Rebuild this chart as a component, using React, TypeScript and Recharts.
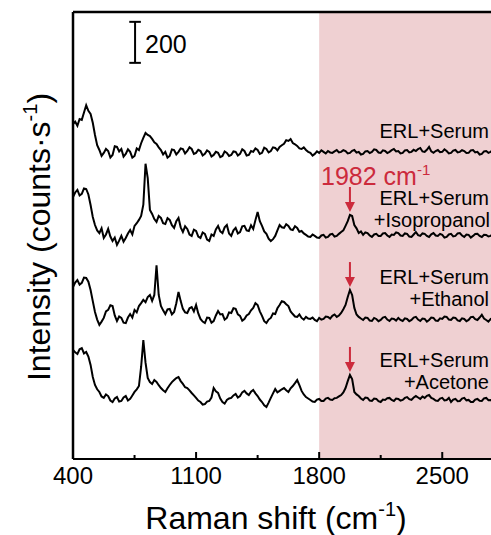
import React from "react";
import {
  Line,
  LineChart,
  ReferenceArea,
  ReferenceDot,
  ReferenceLine,
  XAxis,
  YAxis,
} from "recharts";

// Raman shift (cm-1), read every 12.5 cm-1
const shifts = [
  400, 412.5, 425, 437.5, 450, 462.5, 475, 487.5,
  500, 512.5, 525, 537.5, 550, 562.5, 575, 587.5,
  600, 612.5, 625, 637.5, 650, 662.5, 675, 687.5,
  700, 712.5, 725, 737.5, 750, 762.5, 775, 787.5,
  800, 812.5, 825, 837.5, 850, 862.5, 875, 887.5,
  900, 912.5, 925, 937.5, 950, 962.5, 975, 987.5,
  1000, 1012.5, 1025, 1037.5, 1050, 1062.5, 1075, 1087.5,
  1100, 1112.5, 1125, 1137.5, 1150, 1162.5, 1175, 1187.5,
  1200, 1212.5, 1225, 1237.5, 1250, 1262.5, 1275, 1287.5,
  1300, 1312.5, 1325, 1337.5, 1350, 1362.5, 1375, 1387.5,
  1400, 1412.5, 1425, 1437.5, 1450, 1462.5, 1475, 1487.5,
  1500, 1512.5, 1525, 1537.5, 1550, 1562.5, 1575, 1587.5,
  1600, 1612.5, 1625, 1637.5, 1650, 1662.5, 1675, 1687.5,
  1700, 1712.5, 1725, 1737.5, 1750, 1762.5, 1775, 1787.5,
  1800, 1812.5, 1825, 1837.5, 1850, 1862.5, 1875, 1887.5,
  1900, 1912.5, 1925, 1937.5, 1950, 1962.5, 1975, 1987.5,
  2000, 2012.5, 2025, 2037.5, 2050, 2062.5, 2075, 2087.5,
  2100, 2112.5, 2125, 2137.5, 2150, 2162.5, 2175, 2187.5,
  2200, 2212.5, 2225, 2237.5, 2250, 2262.5, 2275, 2287.5,
  2300, 2312.5, 2325, 2337.5, 2350, 2362.5, 2375, 2387.5,
  2400, 2412.5, 2425, 2437.5, 2450, 2462.5, 2475, 2487.5,
  2500, 2512.5, 2525, 2537.5, 2550, 2562.5, 2575, 2587.5,
  2600, 2612.5, 2625, 2637.5, 2650, 2662.5, 2675, 2687.5,
  2700, 2712.5, 2725, 2737.5, 2750, 2762.5, 2775, 2787.5,
  2800,
];

// intensities (counts/s) as plotted, stacking offsets included
const serum = [
  1634, 1645, 1625, 1658, 1654, 1690, 1725, 1698,
  1683, 1640, 1580, 1530, 1507, 1478, 1493, 1512,
  1502, 1470, 1483, 1525, 1522, 1500, 1512, 1475,
  1488, 1510, 1498, 1470, 1478, 1515, 1507, 1540,
  1566, 1590, 1580, 1575, 1561, 1545, 1537, 1520,
  1507, 1485, 1498, 1470, 1478, 1510, 1507, 1485,
  1498, 1515, 1512, 1490, 1502, 1520, 1512, 1488,
  1493, 1508, 1502, 1480, 1488, 1505, 1498, 1475,
  1483, 1498, 1493, 1472, 1478, 1500, 1493, 1478,
  1483, 1500, 1498, 1480, 1488, 1510, 1502, 1480,
  1483, 1502, 1498, 1515, 1507, 1488, 1493, 1518,
  1512, 1495, 1502, 1520, 1517, 1505, 1522, 1530,
  1537, 1555, 1551, 1560, 1541, 1535, 1527, 1515,
  1512, 1520, 1507, 1498, 1493, 1480, 1488, 1500,
  1493, 1505, 1498, 1490, 1502, 1495, 1493, 1500,
  1507, 1495, 1498, 1506, 1502, 1490, 1493, 1503,
  1507, 1494, 1498, 1485, 1488, 1500, 1502, 1492,
  1498, 1510, 1507, 1495, 1493, 1505, 1502, 1492,
  1498, 1506, 1512, 1500, 1502, 1490, 1493, 1505,
  1507, 1495, 1498, 1508, 1502, 1512, 1517, 1500,
  1498, 1508, 1522, 1500, 1493, 1502, 1507, 1496,
  1498, 1510, 1502, 1490, 1493, 1504, 1507, 1495,
  1498, 1506, 1502, 1492, 1493, 1505, 1507, 1495,
  1498, 1485, 1488, 1500, 1502, 1493, 1498, 1507,
  1502,
];

const isopropanol = [
  1278, 1300, 1312, 1285, 1293, 1320, 1317, 1290,
  1239, 1180, 1141, 1115, 1102, 1125, 1078, 1095,
  1122, 1085, 1063, 1080, 1044, 1065, 1088, 1060,
  1078, 1100, 1117, 1095, 1137, 1150, 1166, 1185,
  1240, 1440, 1370, 1215, 1195, 1170, 1156, 1185,
  1176, 1150, 1146, 1175, 1166, 1140, 1127, 1160,
  1176, 1130, 1107, 1135, 1122, 1095, 1088, 1118,
  1112, 1085, 1078, 1105, 1098, 1070, 1063, 1095,
  1088, 1120, 1137, 1110, 1102, 1130, 1141, 1100,
  1088, 1115, 1127, 1100, 1107, 1135, 1137, 1115,
  1112, 1140, 1122, 1165, 1205, 1160, 1137, 1110,
  1098, 1075, 1063, 1072, 1088, 1115, 1141, 1130,
  1127, 1145, 1137, 1120, 1117, 1135, 1127, 1108,
  1112, 1100, 1093, 1085, 1083, 1095, 1088, 1080,
  1078, 1090, 1093, 1080, 1083, 1095, 1098, 1085,
  1088, 1098, 1107, 1115, 1137, 1160, 1190, 1185,
  1141, 1125, 1102, 1110, 1093, 1105, 1102, 1090,
  1083, 1095, 1098, 1088, 1088, 1100, 1102, 1090,
  1083, 1095, 1093, 1105, 1102, 1090, 1088, 1100,
  1098, 1085, 1083, 1095, 1107, 1092, 1088, 1100,
  1098, 1088, 1083, 1096, 1102, 1090, 1088, 1098,
  1093, 1080, 1083, 1095, 1098, 1086, 1088, 1100,
  1102, 1090, 1083, 1095, 1093, 1080, 1088, 1097,
  1098, 1088, 1083, 1094, 1093, 1085, 1088, 1096,
  1098,
];

const ethanol = [
  839, 860, 873, 850, 859, 885, 883, 865,
  824, 770, 717, 680, 654, 670, 688, 720,
  727, 750, 746, 700, 673, 695, 688, 665,
  663, 690, 707, 690, 727, 715, 746, 760,
  776, 765, 790, 800, 771, 800, 945, 800,
  746, 725, 707, 730, 732, 705, 717, 760,
  815, 770, 732, 715, 712, 735, 741, 720,
  751, 710, 683, 670, 663, 690, 688, 665,
  673, 700, 722, 705, 707, 680, 688, 715,
  712, 735, 732, 705, 698, 675, 683, 700,
  707, 725, 737, 760, 751, 720, 698, 672,
  663, 680, 688, 710, 707, 735, 751, 770,
  766, 755, 746, 720, 707, 695, 693, 705,
  688, 680, 693, 685, 683, 690, 678, 672,
  688, 680, 683, 695, 693, 685, 698, 705,
  693, 700, 712, 730, 751, 790, 824, 800,
  737, 705, 693, 685, 678, 690, 688, 675,
  673, 688, 683, 672, 678, 690, 693, 680,
  673, 685, 683, 675, 688, 678, 673, 686,
  683, 672, 678, 690, 693, 680, 673, 685,
  683, 670, 678, 690, 688, 675, 673, 686,
  683, 695, 693, 680, 678, 690, 688, 676,
  673, 686, 683, 672, 678, 692, 693, 682,
  678, 690, 703, 685, 678, 670, 683, 676,
  673,
];

const acetone = [
  532, 520, 512, 535, 541, 515, 522, 500,
  459, 400, 361, 340, 327, 305, 298, 315,
  307, 285, 278, 295, 302, 280, 283, 300,
  307, 285, 293, 310, 327, 340, 356, 450,
  580, 470, 395, 375, 366, 385, 376, 360,
  346, 335, 327, 345, 361, 375, 385, 395,
  400, 380, 366, 350, 346, 335, 322, 310,
  298, 285, 278, 265, 268, 280, 283, 300,
  346, 330, 322, 295, 278, 270, 288, 295,
  298, 310, 317, 300, 307, 325, 332, 320,
  312, 328, 337, 320, 307, 290, 278, 262,
  254, 275, 298, 320, 341, 325, 332, 340,
  346, 335, 327, 345, 356, 370, 385, 360,
  332, 315, 302, 295, 288, 280, 278, 290,
  293, 283, 283, 295, 298, 290, 288, 296,
  298, 305, 312, 325, 346, 380, 410, 390,
  327, 315, 307, 295, 288, 300, 298, 285,
  283, 295, 293, 282, 278, 290, 288, 296,
  298, 288, 283, 295, 293, 285, 288, 298,
  302, 292, 288, 300, 307, 300, 293, 305,
  298, 308, 312, 298, 293, 285, 283, 295,
  298, 286, 288, 298, 278, 290, 293, 282,
  283, 295, 298, 286, 288, 278, 278, 290,
  293, 284, 283, 296, 298, 287, 288, 280,
  283,
];

const xTicks = [400, 750, 1100, 1450, 1800, 2150, 2500];
const majorTicks = [400, 1100, 1800, 2500];
const peakShift = 1975;
const scaleBar = 200;

const FONT = "'Liberation Sans', Arial, sans-serif";
const RED = "#cc2a3c";
const X_MIN = 400;
const X_MAX = 2800;
const Y_MAX = 2180;

const data = shifts.map((s, i) => ({
  shift: s,
  serum: serum[i],
  isopropanol: isopropanol[i],
  ethanol: ethanol[i],
  acetone: acetone[i],
}));

const peakIdx = shifts.indexOf(peakShift);

function XTick(props: any) {
  const { x, y, payload } = props;
  const major = majorTicks.includes(payload.value);
  return (
    <g>
      <line x1={x} x2={x} y1={y} y2={y - (major ? 7 : 4)} stroke="#000" strokeWidth={2} />
      {major && (
        <text x={x} y={y + 25} textAnchor="middle" fontSize={24} fontFamily={FONT} fill="#000">
          {payload.value}
        </text>
      )}
    </g>
  );
}

function Arrow(props: any) {
  const { cx, cy } = props;
  const tip = cy - 3;
  return (
    <g>
      <line x1={cx} x2={cx} y1={tip - 25} y2={tip - 8} stroke={RED} strokeWidth={2} />
      <path d={`M${cx - 5},${tip - 10} L${cx + 5},${tip - 10} L${cx},${tip} Z`} fill={RED} />
    </g>
  );
}

export default function App() {
  const labelText = { fontSize: 20, fontFamily: FONT, fill: "#000", textAnchor: "end" as const };
  return (
    <div style={{ position: "absolute", left: 0, top: 0, width: 491, height: 535, overflow: "hidden", background: "#fff" }}>
      <LineChart
        width={500}
        height={535}
        data={data}
        margin={{ top: 12, right: 5, left: 73, bottom: 0 }}
      >
        <ReferenceArea x1={1800} x2={X_MAX} y1={0} y2={Y_MAX} fill="#efd0d2" fillOpacity={1} stroke="none" />
        <XAxis
          dataKey="shift"
          type="number"
          domain={[X_MIN, X_MAX]}
          ticks={xTicks}
          tick={<XTick />}
          tickLine={false}
          tickSize={0}
          tickMargin={0}
          height={76}
          axisLine={{ stroke: "#000", strokeWidth: 2 }}
          allowDataOverflow
        />
        <YAxis type="number" domain={[0, Y_MAX]} hide allowDataOverflow />
        <ReferenceLine x={X_MIN} stroke="#000" strokeWidth={2.5} />
        <ReferenceLine y={Y_MAX} stroke="#000" strokeWidth={2.5} />
        <ReferenceLine segment={[{ x: 753, y: 1932 }, { x: 753, y: 1932 + scaleBar }]} stroke="#000" strokeWidth={2} />
        <ReferenceLine segment={[{ x: 720, y: 1932 }, { x: 786, y: 1932 }]} stroke="#000" strokeWidth={2} />
        <ReferenceLine segment={[{ x: 720, y: 1932 + scaleBar }, { x: 786, y: 1932 + scaleBar }]} stroke="#000" strokeWidth={2} />
        <Line type="linear" dataKey="serum" stroke="#000" strokeWidth={2} dot={false} isAnimationActive={false} />
        <Line type="linear" dataKey="isopropanol" stroke="#000" strokeWidth={2} dot={false} isAnimationActive={false} />
        <Line type="linear" dataKey="ethanol" stroke="#000" strokeWidth={2} dot={false} isAnimationActive={false} />
        <Line type="linear" dataKey="acetone" stroke="#000" strokeWidth={2} dot={false} isAnimationActive={false} />
        <ReferenceDot x={peakShift} y={isopropanol[peakIdx]} r={0} shape={<Arrow />} />
        <ReferenceDot x={peakShift} y={ethanol[peakIdx]} r={0} shape={<Arrow />} />
        <ReferenceDot x={peakShift} y={acetone[peakIdx]} r={0} shape={<Arrow />} />
      </LineChart>
      <svg
        width={491}
        height={535}
        style={{ position: "absolute", left: 0, top: 0, pointerEvents: "none" }}
      >
        <text x={145} y={53} fontSize={25} fontFamily={FONT} fill="#000">
          {scaleBar}
        </text>
        <text x={321} y={185} fontSize={25} fontFamily={FONT} fill={RED}>
          1982 cm
          <tspan fontSize={15} dy={-10}>-1</tspan>
        </text>
        <text x={489} y={138} {...labelText}>ERL+Serum</text>
        <text x={489} y={205} {...labelText}>ERL+Serum</text>
        <text x={490} y={227} {...labelText}>+Isopropanol</text>
        <text x={489} y={284} {...labelText}>ERL+Serum</text>
        <text x={489} y={306} {...labelText}>+Ethanol</text>
        <text x={489} y={367} {...labelText}>ERL+Serum</text>
        <text x={489} y={389} {...labelText}>+Acetone</text>
        <text x={276} y={529} textAnchor="middle" fontSize={32} fontFamily={FONT} fill="#000">
          Raman shift (cm
          <tspan fontSize={20} dy={-13}>-1</tspan>
          <tspan dy={13}>)</tspan>
        </text>
        <text
          transform="translate(50,237) rotate(-90)"
          textAnchor="middle"
          fontSize={32}
          fontFamily={FONT}
          fill="#000"
        >
          Intensity (counts·s
          <tspan fontSize={20} dy={-13}>-1</tspan>
          <tspan dy={13}>)</tspan>
        </text>
      </svg>
    </div>
  );
}
